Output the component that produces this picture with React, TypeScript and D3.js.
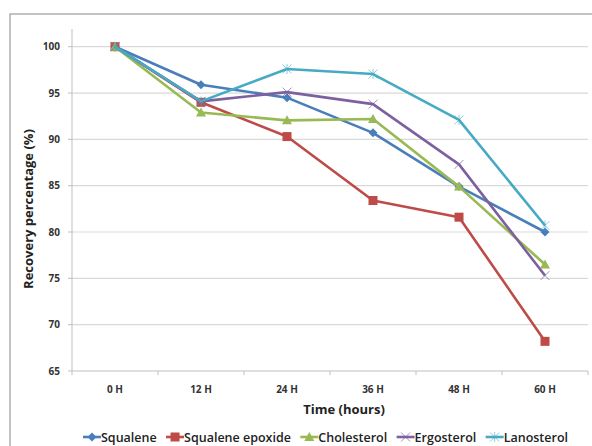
import React from "react";
import * as d3 from "d3";

const categories = ["0 H", "12 H", "24 H", "36 H", "48 H", "60 H"];
const squalene = [100, 95.9, 94.5, 90.7, 84.9, 80.0];
const squaleneEpoxide = [100, 94.0, 90.3, 83.4, 81.6, 68.2];
const cholesterol = [100, 92.9, 92.05, 92.2, 84.9, 76.5];
const ergosterol = [100, 94.1, 95.1, 93.8, 87.3, 75.3];
const lanosterol = [100, 94.1, 97.6, 97.05, 92.1, 80.7];
const yTicks = [65, 70, 75, 80, 85, 90, 95, 100];
const seriesNames = ["Squalene", "Squalene epoxide", "Cholesterol", "Ergosterol", "Lanosterol"];

const series = [
  { name: seriesNames[0], values: squalene, color: "#4A7EBB", marker: "diamond" },
  { name: seriesNames[1], values: squaleneEpoxide, color: "#BE4B48", marker: "square" },
  { name: seriesNames[2], values: cholesterol, color: "#98B954", marker: "triangle" },
  { name: seriesNames[3], values: ergosterol, color: "#7D60A0", marker: "x" },
  { name: seriesNames[4], values: lanosterol, color: "#46AAC5", marker: "star" },
];

const W = 592, H = 446;
const plotL = 72, plotR = 588, plotT = 29, plotB = 371;
const font = "'Open Sans', 'Liberation Sans', Arial, sans-serif";
const legendFontSize = 12.5;
const legendLeft = 83, legendRight = 568, legendLine = 18;

function measure(text: string): number {
  try {
    const c = document.createElement("canvas");
    const ctx = c.getContext("2d");
    if (ctx) {
      ctx.font = `600 ${legendFontSize}px 'Open Sans'`;
      return ctx.measureText(text).width;
    }
  } catch (e) {}
  return text.length * legendFontSize * 0.56;
}

function Marker({ type, x, y, color }: { type: string; x: number; y: number; color: string }) {
  const s = 4.5;
  if (type === "diamond")
    return <path d={`M${x},${y - s}L${x + s},${y}L${x},${y + s}L${x - s},${y}Z`} fill={color} />;
  if (type === "square")
    return <rect x={x - 4.5} y={y - 4.5} width={9} height={9} fill={color} />;
  if (type === "triangle")
    return <path d={`M${x},${y - 5}L${x + 5},${y + 4}L${x - 5},${y + 4}Z`} fill={color} />;
  if (type === "x")
    return (
      <path d={`M${x - 4.5},${y - 4.5}L${x + 4.5},${y + 4.5}M${x - 4.5},${y + 4.5}L${x + 4.5},${y - 4.5}`}
        stroke={color} strokeWidth={1} opacity={0.7} fill="none" />
    );
  return (
    <path
      d={`M${x - 4.5},${y - 4.5}L${x + 4.5},${y + 4.5}M${x - 4.5},${y + 4.5}L${x + 4.5},${y - 4.5}M${x},${y - 5}L${x},${y + 5}`}
      stroke={color} strokeWidth={1} opacity={0.6} fill="none" />
  );
}

export default function App() {
  const x = d3.scaleBand<string>().domain(categories).range([plotL, plotR]);
  const y = d3.scaleLinear().domain([65, 100]).range([plotB, 46.7]);
  const cx = (c: string) => (x(c) as number) + x.bandwidth() / 2;
  const line = d3.line<number>().x((_, i) => cx(categories[i])).y((v) => y(v));

  const widths = seriesNames.map(measure);
  const total = widths.reduce((a, b) => a + b + legendLine, 0);
  const gap = Math.max(3, (legendRight - legendLeft - total) / (seriesNames.length - 1));
  const starts: number[] = [];
  let pos = legendLeft;
  widths.forEach((w) => {
    starts.push(pos);
    pos += legendLine + w + gap;
  });

  return (
    <svg width={W} height={H} style={{ position: "absolute", left: 0, top: 0, background: "#fff" }}>
      <rect x={0} y={0} width={W} height={H} fill="#fff" />
      <rect x={10} y={14} width={W + 20} height={H + 20} fill="none" stroke="#9a9a9a" strokeWidth={1.2} />
      {yTicks.map((t) => (
        <g key={t}>
          {t !== 65 && (
            <line x1={plotL} x2={plotR} y1={y(t)} y2={y(t)} stroke="#d9d9d9" strokeWidth={1.2} />
          )}
          <line x1={plotL - 4} x2={plotL} y1={y(t)} y2={y(t)} stroke="#bfbfbf" />
          <text x={60} y={y(t)} dy="0.35em" textAnchor="end" fontFamily={font} fontWeight={700}
            fontSize={10} fill="#333">{t}</text>
        </g>
      ))}
      <line x1={plotL} x2={plotL} y1={plotT} y2={plotB} stroke="#bfbfbf" strokeWidth={1} />
      <line x1={plotL} x2={plotR} y1={plotB} y2={plotB} stroke="#bfbfbf" strokeWidth={1} />
      {categories.map((c) => (
        <g key={c}>
          <line x1={(x(c) as number) + x.bandwidth()} x2={(x(c) as number) + x.bandwidth()}
            y1={plotB} y2={plotB + 4} stroke="#bfbfbf" />
          <text x={cx(c)} y={393} textAnchor="middle" fontFamily={font} fontWeight={700}
            fontSize={10} fill="#333">{c}</text>
        </g>
      ))}
      <line x1={plotL} x2={plotL} y1={plotB} y2={plotB + 4} stroke="#bfbfbf" />
      {series.map((s) => (
        <g key={s.name}>
          <path d={line(s.values) as string} fill="none" stroke={s.color} strokeWidth={2.6}
            strokeLinejoin="round" />
          {s.values.map((v, i) => (
            <Marker key={i} type={s.marker} x={cx(categories[i])} y={y(v)} color={s.color} />
          ))}
        </g>
      ))}
      <text transform={`translate(33,209) rotate(-90)`} textAnchor="middle" fontFamily={font}
        fontWeight={700} fontSize={13} fill="#222">Recovery percentage (%)</text>
      <text x={344} y={414} textAnchor="middle" fontFamily={font} fontWeight={700} fontSize={13}
        fill="#222">Time (hours)</text>
      {series.map((s, i) => {
        const lx = starts[i];
        return (
          <g key={s.name}>
            <line x1={lx} x2={lx + legendLine} y1={437} y2={437} stroke={s.color} strokeWidth={2.6} />
            <Marker type={s.marker} x={lx + legendLine / 2} y={437} color={s.color} />
            <text x={lx + legendLine} y={441.5} fontFamily={font} fontWeight={600} fontSize={legendFontSize}
              fill="#222">{s.name}</text>
          </g>
        );
      })}
    </svg>
  );
}
